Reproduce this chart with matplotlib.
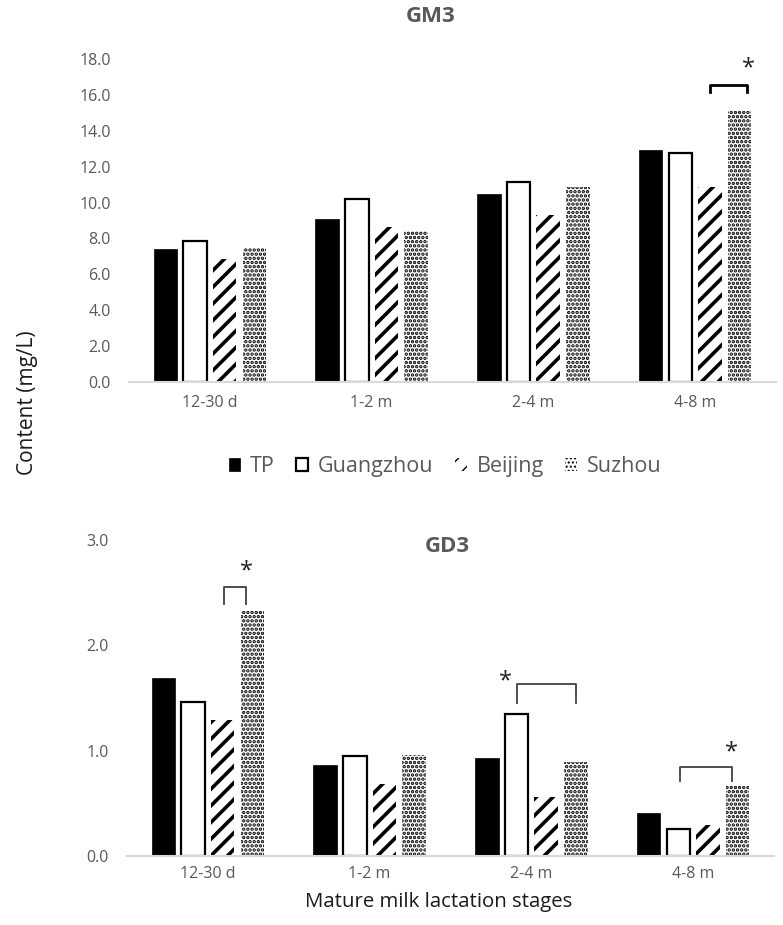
import numpy as np
import matplotlib
matplotlib.use("Agg")
import matplotlib.pyplot as plt

# ============================================================
# Data
# ============================================================
stages = ["12-30 d", "1-2 m", "2-4 m", "4-8 m"]
groups = ["TP", "Guangzhou", "Beijing", "Suzhou"]

gm3_tp = [7.40, 9.07, 10.46, 12.92]
gm3_guangzhou = [7.87, 10.20, 11.17, 12.78]
gm3_beijing = [6.87, 8.66, 9.31, 10.89]
gm3_suzhou = [7.45, 8.43, 10.89, 15.12]

gd3_tp = [1.69, 0.86, 0.93, 0.41]
gd3_guangzhou = [1.46, 0.945, 1.35, 0.26]
gd3_beijing = [1.29, 0.68, 0.56, 0.29]
gd3_suzhou = [2.33, 0.96, 0.89, 0.66]

gm3_ticks = [0, 2, 4, 6, 8, 10, 12, 14, 16, 18]
gd3_ticks = [0, 1, 2, 3]

# significance brackets: (stage, left bar, right bar, y top, y legs, star x in bars, star y, colour, lw)
gm3_sig = [(3, 2, 3.25, 16.55, 16.15, 3.3, 17.5, "black", 2.0)]
gd3_sig = [(0, 2.05, 2.8, 2.55, 2.39, 2.8, 2.70, "#404040", 1.3),
           (2, 1, 3, 1.63, 1.45, 0.62, 1.66, "#404040", 1.3),
           (3, 1.05, 2.8, 0.845, 0.71, 2.8, 0.98, "#404040", 1.3)]

plt.rcParams["font.family"] = ["Open Sans", "DejaVu Sans"]

GRAY = "#595959"
WIDTH = 0.145
STEP = 0.183

fig = plt.figure(figsize=(7.83, 9.25), dpi=100)
ax_top = fig.add_axes([129 / 783, 0.587, 647 / 783, 0.3492])
ax_bot = fig.add_axes([127 / 783, 0.0746, 647 / 783, 0.3416])

styles = [
    dict(facecolor="black", edgecolor="black", linewidth=0.5),
    dict(facecolor="white", edgecolor="black", linewidth=1.6),
    dict(facecolor="white", edgecolor="black", linewidth=0, hatch="//"),
    dict(facecolor="white", edgecolor="black", linewidth=0, hatch="...."),
]
hatch_lw = [1.0, 1.0, 2.6, 1.7]


def draw_panel(ax, series, ticks, ymax, sig, pad_x):
    x = np.arange(len(stages))
    bars = []
    for i, (vals, st) in enumerate(zip(series, styles)):
        with plt.rc_context({"hatch.linewidth": hatch_lw[i]}):
            b = ax.bar(x + (i - 1.5) * STEP, vals, WIDTH, label=groups[i], **st)
        bars.append(b)
    ax.set_xlim(-0.5, len(stages) - 0.5)
    ax.set_ylim(0, ymax)
    ax.set_yticks(ticks)
    ax.set_yticklabels([f"{t:.1f}" for t in ticks])
    ax.set_xticks(x)
    ax.set_xticklabels(stages)
    ax.tick_params(axis="both", length=0, labelsize=11.5, labelcolor=GRAY)
    ax.tick_params(axis="y", pad=13)
    ax.tick_params(axis="x", pad=pad_x)
    for s in ["top", "left", "right"]:
        ax.spines[s].set_visible(False)
    ax.spines["bottom"].set_color("#d9d9d9")
    ax.spines["bottom"].set_linewidth(1.5)
    ax.set_facecolor("none")

    # significance brackets
    for k, left, right, ytop, yleg, sx, sy, col, lw in sig:
        xl = k + (left - 1.5) * STEP
        xr = k + (right - 1.5) * STEP
        ax.plot([xl, xl, xr, xr], [yleg, ytop, ytop, yleg], color=col,
                linewidth=lw, solid_joinstyle="round", clip_on=False)
        ax.text(k + (sx - 1.5) * STEP, sy, "*", ha="center", va="center",
                fontsize=17, color="#222222")
    return bars


bars = draw_panel(ax_top, [gm3_tp, gm3_guangzhou, gm3_beijing, gm3_suzhou],
                  gm3_ticks, 18, gm3_sig, 9)
draw_panel(ax_bot, [gd3_tp, gd3_guangzhou, gd3_beijing, gd3_suzhou],
           gd3_ticks, 3, gd3_sig, 7)

# Titles
fig.text(431 / 783, 1 - 17 / 925, "GM3", ha="center", va="center",
         fontsize=16, fontweight="bold", color=GRAY)
fig.text(447 / 783, 1 - 547 / 925, "GD3", ha="center", va="center",
         fontsize=16, fontweight="bold", color=GRAY)

# Axis labels
fig.text(28 / 783, 1 - 403 / 925, "Content (mg/L)", rotation=90,
         ha="center", va="center", fontsize=15, color="#1a1a1a")
fig.text(439 / 783, 1 - 902 / 925, "Mature milk lactation stages",
         ha="center", va="center", fontsize=14.7, color="#1a1a1a")

# Legend
leg = fig.legend(handles=bars, labels=groups, loc="center", ncol=4,
                 bbox_to_anchor=(445 / 783, 1 - 467 / 925), frameon=False,
                 fontsize=15.5, handlelength=0.55, handleheight=0.55,
                 handletextpad=0.45, columnspacing=1.0)
for t in leg.get_texts():
    t.set_color(GRAY)

fig.savefig("out.png", dpi=100, facecolor="white")
